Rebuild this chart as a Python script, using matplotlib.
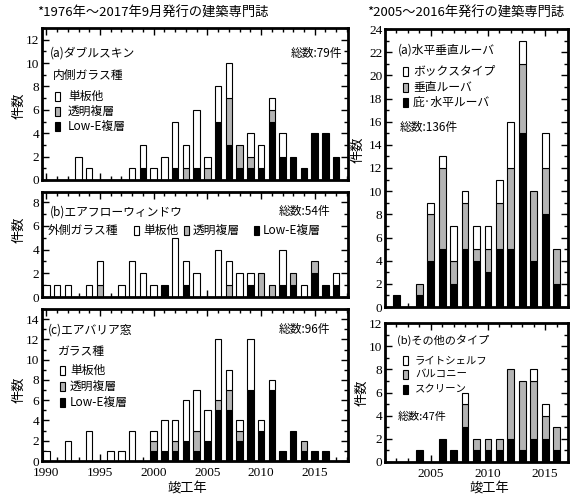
import matplotlib
matplotlib.use("Agg")
import matplotlib.pyplot as plt
import numpy as np
from matplotlib.patches import Rectangle
from matplotlib.ticker import MultipleLocator

plt.rcParams['font.family'] = ['Noto Sans CJK JP', 'DejaVu Sans']

W, H = 571, 497
GREY = '#b4b4b4'

# ---- data: left column, 1990-2017 ----
years_l = list(range(1990, 2018))

# (a) double skin
a_black = {1999: 1, 2002: 1, 2004: 1, 2006: 5, 2007: 3, 2008: 1, 2009: 1, 2010: 1,
           2011: 5, 2012: 2, 2013: 2, 2014: 1, 2015: 4, 2016: 4, 2017: 2}
a_grey = {2003: 1, 2005: 1, 2007: 4, 2008: 2, 2009: 1, 2011: 1}
a_white = {1993: 2, 1994: 1, 1998: 1, 1999: 2, 2000: 1, 2001: 2, 2002: 4, 2003: 2,
           2004: 5, 2005: 1, 2006: 3, 2007: 3, 2009: 2, 2010: 2, 2011: 1, 2012: 2}

# (b) airflow window
b_black = {2001: 1, 2003: 1, 2009: 1, 2012: 1, 2013: 1, 2015: 2, 2016: 1, 2017: 1}
b_grey = {1995: 1, 2007: 1, 2010: 2, 2011: 1, 2013: 1, 2015: 1}
b_white = {1990: 1, 1991: 1, 1992: 1, 1994: 1, 1995: 2, 1997: 1, 1998: 3, 1999: 2,
           2000: 1, 2002: 5, 2003: 2, 2004: 2, 2006: 4, 2007: 2, 2008: 2, 2009: 1,
           2012: 3, 2014: 1, 2017: 1}

# (c) air barrier window
c_black = {2000: 1, 2001: 1, 2002: 1, 2003: 2, 2004: 1, 2005: 2, 2006: 5, 2007: 5,
           2008: 2, 2009: 7, 2010: 3, 2011: 7, 2012: 1, 2013: 3, 2014: 1, 2015: 1, 2016: 1}
c_grey = {2000: 1, 2002: 1, 2004: 2, 2006: 1, 2007: 2, 2008: 1, 2014: 1}
c_white = {1990: 1, 1992: 2, 1994: 3, 1996: 1, 1997: 1, 1998: 3, 2000: 1, 2001: 3,
           2002: 2, 2003: 4, 2004: 4, 2005: 3, 2006: 6, 2007: 2, 2008: 1, 2009: 5,
           2010: 1, 2011: 1}

# ---- data: right column, 2002-2016 ----
years_r = list(range(2002, 2017))
ra_black = [1, 0, 1, 4, 5, 2, 5, 4, 3, 5, 5, 15, 4, 8, 2]
ra_grey = [0, 0, 1, 4, 7, 2, 4, 1, 2, 4, 7, 6, 6, 4, 3]
ra_white = [0, 0, 0, 1, 1, 3, 1, 2, 2, 2, 4, 2, 0, 3, 0]

rb_black = [0, 0, 1, 0, 2, 1, 3, 1, 1, 1, 2, 1, 2, 2, 1]
rb_grey = [0, 0, 0, 0, 0, 0, 2, 1, 1, 1, 6, 6, 5, 2, 2]
rb_white = [0, 0, 0, 0, 0, 0, 1, 0, 0, 0, 0, 0, 1, 1, 0]


def series(d, years):
    return [d.get(y, 0) for y in years]


def fx(x):
    return x / W


def fy(y):
    return 1 - y / H


def make_ax(left, top, right, bottom):
    return fig.add_axes([fx(left), fy(bottom), fx(right - left), (bottom - top) / H])


def stack(ax, years, black, grey, white, w=0.6):
    yrs = np.array(years)
    b = np.array(black, float)
    g = np.array(grey, float)
    t = np.array(white, float)
    for vals, base, col in [(b, 0 * b, 'black'), (g, b, GREY), (t, b + g, 'white')]:
        m = vals > 0
        ax.bar(yrs[m], vals[m], w, bottom=base[m], color=col,
               edgecolor='black', linewidth=0.8, zorder=2)


def style(ax, xlim, ylim, ymaj, xlabels=False):
    ax.set_xlim(*xlim)
    ax.set_ylim(*ylim)
    ax.xaxis.set_major_locator(MultipleLocator(5))
    ax.xaxis.set_minor_locator(MultipleLocator(1))
    ax.yaxis.set_major_locator(MultipleLocator(ymaj))
    ax.yaxis.set_minor_locator(MultipleLocator(1))
    ax.tick_params(which='both', direction='in', top=True, right=True, width=1.0)
    ax.tick_params(which='major', length=5)
    ax.tick_params(which='minor', length=3)
    ax.tick_params(axis='both', labelsize=9.5, pad=2)
    ax.tick_params(axis='x', pad=4)
    for s in ax.spines.values():
        s.set_linewidth(2.0)
    if not xlabels:
        ax.set_xticklabels([])
    for lab in ax.get_xticklabels() + ax.get_yticklabels():
        lab.set_fontfamily('Liberation Serif')


def legend_box(x, y, color):
    fig.add_artist(Rectangle((fx(x), fy(y + 4.5)), 5 / W, 9 / H, facecolor=color,
                             edgecolor='black', linewidth=0.8, transform=fig.transFigure))


def txt(x, y, s, size=8, ha='left'):
    fig.text(fx(x), fy(y), s, fontsize=size, ha=ha, va='center')


fig = plt.figure(figsize=(W / 100, H / 100), dpi=100)

xl = (1989.6, 2018.1)
xr = (2001, 2017)

ax1 = make_ax(42, 28, 348, 180)
stack(ax1, years_l, series(a_black, years_l), series(a_grey, years_l), series(a_white, years_l))
style(ax1, xl, (0, 13), 2)

ax2 = make_ax(42, 192, 348, 297)
stack(ax2, years_l, series(b_black, years_l), series(b_grey, years_l), series(b_white, years_l))
style(ax2, xl, (0, 8.85), 2)

ax3 = make_ax(42, 309, 348, 461)
stack(ax3, years_l, series(c_black, years_l), series(c_grey, years_l), series(c_white, years_l))
style(ax3, xl, (0, 15), 2, xlabels=True)

ax4 = make_ax(385, 29, 568, 307)
stack(ax4, years_r, ra_black, ra_grey, ra_white)
style(ax4, xr, (0, 24), 2)

ax5 = make_ax(385, 323, 568, 462)
stack(ax5, years_r, rb_black, rb_grey, rb_white)
style(ax5, xr, (0, 12), 2, xlabels=True)

# y labels
for ax, yc, xc in [(ax1, 106, 19), (ax2, 230, 19), (ax3, 390, 19), (ax4, 150, 358), (ax5, 393, 362)]:
    fig.text(fx(xc), fy(yc), '件数', fontsize=9.5, rotation=90, ha='center', va='center')

# x labels
txt(187, 489, '竣工年', 9.5, 'center')
txt(489, 489, '竣工年', 9.5, 'center')

# headers
txt(37, 13, '*1976年～2017年9月発行の建築専門誌', 9.5)
txt(367, 13, '*2005～2016年発行の建築専門誌', 9.5)

# left (a)
txt(50, 53, '(a)ダブルスキン', 8.5)
txt(342, 53, '総数:79件', 8.5, 'right')
txt(53, 75, '内側ガラス種', 8.5)
for yy, col, lab in [(96, 'white', '単板他'), (111, GREY, '透明複層'), (126, 'black', 'Low-E複層')]:
    legend_box(55, yy, col)
    txt(68, yy, lab, 8.5)

# left (b)
txt(50, 212, '(b)エアフローウィンドウ', 8.5)
txt(330, 212, '総数:54件', 8.5, 'right')
txt(48, 230, '外側ガラス種', 8.5)
for x0, col, lab in [(134, 'white', '単板他'), (184, GREY, '透明複層'), (254, 'black', 'Low-E複層')]:
    legend_box(x0, 230, col)
    txt(x0 + 9, 230, lab, 8.5)

# left (c)
txt(48, 330, '(c)エアバリア窓', 8.5)
txt(330, 330, '総数:96件', 8.5, 'right')
txt(58, 352, 'ガラス種', 8.5)
for yy, col, lab in [(370, 'white', '単板他'), (386, GREY, '透明複層'), (402, 'black', 'Low-E複層')]:
    legend_box(60, yy, col)
    txt(70, yy, lab, 8.5)

# right (a)
txt(398, 50, '(a)水平垂直ルーバ', 8.5)
for yy, col, lab in [(71, 'white', 'ボックスタイプ'), (87, GREY, '垂直ルーバ'), (102, 'black', '庇·水平ルーバ')]:
    legend_box(403, yy, col)
    txt(413, yy, lab, 8.5)
txt(400, 128, '総数:136件', 8.5)

# right (b)
txt(397, 340, '(b)その他のタイプ', 8)
for yy, col, lab in [(360, 'white', 'ライトシェルフ'), (374, GREY, 'バルコニー'), (389, 'black', 'スクリーン')]:
    legend_box(403, yy, col)
    txt(415, yy, lab, 7.5)
txt(398, 417, '総数:47件', 8)

fig.savefig('out.png', dpi=100)
